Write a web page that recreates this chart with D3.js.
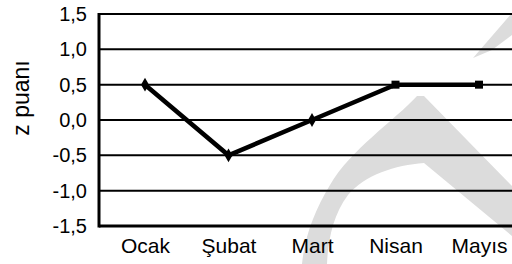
<!DOCTYPE html>
<html><head><meta charset="utf-8">
<script src="https://cdn.jsdelivr.net/npm/d3@7"></script>
<style>
html,body{margin:0;padding:0;background:#fff;}
svg{display:block;font-family:"Liberation Sans",Arial,sans-serif;}
</style></head>
<body>
<svg id="chart" width="512" height="264"></svg>
<script>
const categories = ["Ocak", "Şubat", "Mart", "Nisan", "Mayıs"];
const zValues = [0.5, -0.5, 0.0, 0.5, 0.5];
const markerShapes = ["diamond", "diamond", "diamond", "square", "square"];
const yTicks = [1.5, 1.0, 0.5, 0.0, -0.5, -1.0, -1.5];
const yTickLabels = ["1,5", "1,0", "0,5", "0,0", "-0,5", "-1,0", "-1,5"];
const yTitle = "z puanı";

const svg = d3.select("#chart");
const plotLeft = 99, plotRight = 512, plotTop = 14, plotBottom = 226;

const x = d3.scalePoint().domain(categories).range([145, 479]);
const y = d3.scaleLinear().domain([-1.5, 1.5]).range([plotBottom, plotTop]);

// watermark (background decoration)
const wm = svg.append("g").attr("fill", "#dcdcdc");
wm.append("path").attr("d", "M473,58 L512,13 L512,35 L492,50 Z");
wm.append("path").attr("d",
  "M417,96 C395,120 350,150 330,185 C315,210 305,235 302,264 L327,264 C328,240 333,215 348,195 C365,175 395,165 424,163 L512,236 L512,186 L424,96 Z");

// gridlines
svg.append("g").selectAll("line").data(yTicks).join("line")
  .attr("x1", plotLeft).attr("x2", plotRight)
  .attr("y1", d => y(d)).attr("y2", d => y(d))
  .attr("stroke", "#000")
  .attr("stroke-width", d => d === -1.5 ? 3 : 2);

// left axis line
svg.append("line")
  .attr("x1", plotLeft).attr("x2", plotLeft)
  .attr("y1", y(1.5) - 1).attr("y2", y(-1.5) + 1.5)
  .attr("stroke", "#000").attr("stroke-width", 3);

// y axis labels
const yAxis = d3.axisLeft(y).tickValues(yTicks)
  .tickFormat((d, i) => yTickLabels[i]).tickSize(0).tickPadding(12);
const gy = svg.append("g").attr("transform", `translate(${plotLeft},0)`).call(yAxis);
gy.select(".domain").remove();
gy.selectAll("text").attr("font-size", 20).attr("fill", "#000")
  .attr("font-family", "Liberation Sans, Arial, sans-serif");

// x axis labels
const xAxis = d3.axisBottom(x).tickSize(0).tickPadding(0);
const gx = svg.append("g").attr("transform", `translate(0,${plotBottom})`).call(xAxis);
gx.select(".domain").remove();
gx.selectAll("text").attr("font-size", 21).attr("fill", "#000")
  .attr("font-family", "Liberation Sans, Arial, sans-serif")
  .attr("dy", null).attr("y", 27);

// y title
svg.append("text")
  .attr("transform", `translate(29,98) rotate(-90)`)
  .attr("text-anchor", "middle")
  .attr("font-size", 23)
  .attr("fill", "#000")
  .text(yTitle);

// line
const line = d3.line().x((d, i) => x(categories[i])).y(d => y(d));
svg.append("path").datum(zValues)
  .attr("d", line)
  .attr("fill", "none").attr("stroke", "#000")
  .attr("stroke-width", 4.5).attr("stroke-linejoin", "miter");

// markers
const sym = { diamond: d3.symbolDiamond, square: d3.symbolSquare };
svg.append("g").selectAll("path").data(zValues).join("path")
  .attr("transform", (d, i) => `translate(${x(categories[i])},${y(d)})`)
  .attr("d", (d, i) => d3.symbol().type(sym[markerShapes[i]]).size(markerShapes[i] === "square" ? 64 : 55)())
  .attr("fill", "#000");
</script>
</body></html>
